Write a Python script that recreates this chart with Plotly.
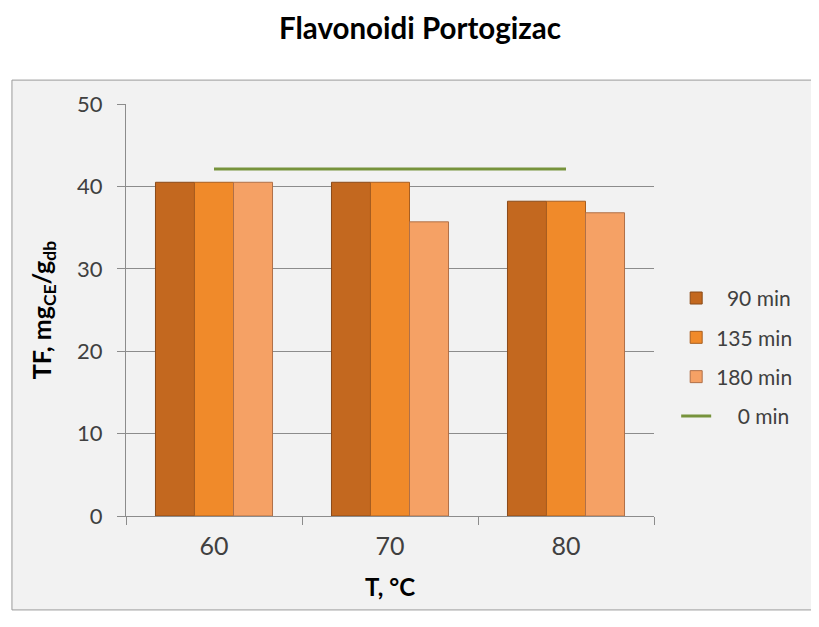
import plotly.graph_objects as go

# data
temperatures = ["60", "70", "80"]
tf_90 = [40.5, 40.5, 38.2]
tf_135 = [40.5, 40.5, 38.2]
tf_180 = [40.5, 35.7, 36.8]
tf_0 = [42.1, 42.1, 42.1]

series_names = ["  90 min", "135 min", "180 min", "    0 min"]
bar_colors = ["#c3681f", "#f08a2a", "#f5a165"]
edge_colors = ["#8a4a18", "#a85e20", "#b07048"]

fig = go.Figure()

for name, vals, col, edge in zip(series_names[:3], [tf_90, tf_135, tf_180], bar_colors, edge_colors):
    fig.add_trace(go.Bar(
        x=temperatures, y=vals, name=name, legendgroup=name,
        marker=dict(color=col, line=dict(color=edge, width=1))
    ))

# 0 min reference line
fig.add_trace(go.Scatter(
    x=temperatures, y=tf_0, name=series_names[3], legendgroup=series_names[3],
    mode="lines", line=dict(color="#77933c", width=3)
))

# outer chart frame
fig.add_shape(
    type="rect", xref="paper", yref="paper",
    x0=-0.216, x1=1.299, y0=-0.228, y1=1.058,
    fillcolor="#f2f2f2", line=dict(color="#9a9a9a", width=1), layer="below"
)

# page body adds an 8px offset, so the figure is a bit smaller than the window
fig.update_layout(
    width=811, height=619,
    margin=dict(l=118, r=165, t=96, b=111),
    paper_bgcolor="white",
    plot_bgcolor="#f2f2f2",
    font=dict(family="Lato", color="#404040"),
    title=dict(
        text="<b>Flavonoidi Portogizac</b>",
        x=0.508, xanchor="center", y=1 - 21 / 619, yanchor="middle",
        yref="container", font=dict(size=29.5, color="black")
    ),
    barmode="group", bargap=0.335, bargroupgap=0,
    legend=dict(
        x=1.042, y=0.385, xanchor="left", yanchor="middle",
        font=dict(size=21, color="#404040"),
        traceorder="grouped", tracegroupgap=9,
        bgcolor="rgba(0,0,0,0)", itemwidth=30
    ),
    showlegend=True
)

fig.update_xaxes(
    type="category", tickson="boundaries",
    showline=True, linecolor="#8c8c8c", linewidth=1,
    ticks="outside", ticklen=8, tickcolor="#8c8c8c",
    ticklabelstandoff=8,
    tickfont=dict(size=25, color="#404040"),
    title=dict(text="<b>T, °C</b>", font=dict(size=24, color="black"), standoff=20),
    showgrid=False
)

fig.update_yaxes(
    range=[0, 50], dtick=10,
    showline=True, linecolor="#8c8c8c", linewidth=1,
    ticks="outside", ticklen=8, tickcolor="#8c8c8c",
    ticklabelstandoff=10,
    tickfont=dict(size=22, color="#404040"),
    showgrid=True, gridcolor="#8c8c8c", gridwidth=1,
    zeroline=False,
    title=dict(text="<b>TF, mg<sub>CE</sub>/g<sub>db</sub></b>", font=dict(size=25, color="black"), standoff=18)
)

fig.write_html("out.html")
